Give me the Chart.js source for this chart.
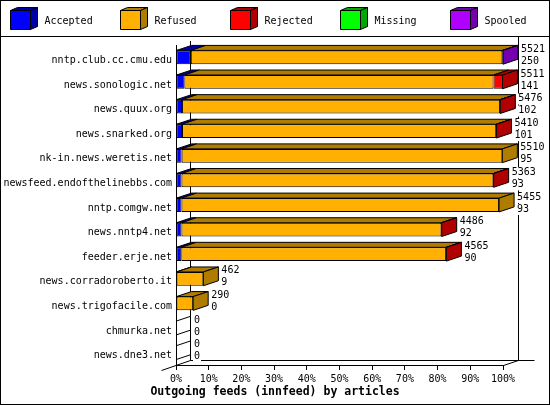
<!DOCTYPE html>
<html>
<head>
<meta charset="utf-8">
<script src="https://cdn.jsdelivr.net/npm/chart.js@4"></script>
<style>
  html, body { margin: 0; padding: 0; background: #fff; }
  canvas { display: block; }
</style>
</head>
<body>
<canvas id="chart" width="550" height="405"></canvas>
<script>
const feeds = [
    'nntp.club.cc.cmu.edu', 'news.sonologic.net', 'news.quux.org', 'news.snarked.org',
    'nk-in.news.weretis.net', 'newsfeed.endofthelinebbs.com', 'nntp.comgw.net',
    'news.nntp4.net', 'feeder.erje.net', 'news.corradoroberto.it', 'news.trigofacile.com',
    'chmurka.net', 'news.dne3.net',
];
const offered  = [5521, 5511, 5476, 5410, 5510, 5363, 5455, 4486, 4565, 462, 290, 0, 0];
const accepted = [250, 141, 102, 101, 95, 93, 93, 92, 90, 9, 0, 0, 0];
const refused  = [5261, 5220, 5370, 5305, 5415, 5266, 5362, 4390, 4471, 453, 290, 0, 0];
const rejected = [0, 150, 4, 4, 0, 4, 0, 4, 4, 0, 0, 0, 0];
const missing  = [0, 0, 0, 0, 0, 0, 0, 0, 0, 0, 0, 0, 0];
const spooled  = [10, 0, 0, 0, 0, 0, 0, 0, 0, 0, 0, 0, 0];
const seriesNames = ['Accepted', 'Refused', 'Rejected', 'Missing', 'Spooled'];
const xTicks = [0, 10, 20, 30, 40, 50, 60, 70, 80, 90, 100];
const chartTitle = 'Outgoing feeds (innfeed) by articles';

const faceColors = ['#0000ff', '#ffb000', '#ff0000', '#00ff00', '#b000ff'];
const darkColors = ['#0000a8', '#b07c00', '#b00000', '#00a800', '#7400b0'];
const MONO = '"DejaVu Sans Mono", "Liberation Mono", monospace';
const DX = 15, DY = 5; // depth of the 3d effect

const maxOffered = Math.max(...offered);
const pct = arr => arr.map(v => v / maxOffered * 100);
const series = [accepted, refused, rejected, missing, spooled];

function line(ctx, x1, y1, x2, y2) {
    ctx.beginPath();
    ctx.moveTo(x1, y1);
    ctx.lineTo(x2, y2);
    ctx.stroke();
}

function poly(ctx, pts, fill) {
    ctx.beginPath();
    ctx.moveTo(pts[0][0], pts[0][1]);
    for (let k = 1; k < pts.length; k++) ctx.lineTo(pts[k][0], pts[k][1]);
    ctx.closePath();
    ctx.fillStyle = fill;
    ctx.fill();
    ctx.stroke();
}

const depthPlugin = {
    id: 'depth',
    beforeDraw(chart) {
        const ctx = chart.ctx;
        ctx.save();
        ctx.fillStyle = '#fff';
        ctx.fillRect(0, 0, chart.width, chart.height);
        ctx.restore();
    },
    beforeDatasetsDraw(chart) {
        const ctx = chart.ctx, a = chart.chartArea;
        const L = Math.round(a.left) - 0.5, R = Math.round(a.right) + 0.5;
        const B = Math.round(a.bottom) + 0.5;
        ctx.save();
        ctx.strokeStyle = '#000';
        ctx.lineWidth = 1;
        // back wall
        line(ctx, L + DX, a.top - 4, L + DX, B - DY);
        line(ctx, R + DX, 36, R + DX, B - DY);
        line(ctx, L + DX, B - DY, R + DX + 16, B - DY);
        // floor edges
        line(ctx, L - 14, B + 5, L + DX, B - DY);
        line(ctx, R, B, R + DX, B - DY);
        ctx.restore();
    },
    afterDatasetsDraw(chart) {
        const ctx = chart.ctx, a = chart.chartArea;
        ctx.save();
        ctx.strokeStyle = '#000';
        ctx.lineWidth = 1;
        let rowY = [], rowH = [], rowEnd = [];
        feeds.forEach((f, i) => {
            let last = -1, end = a.left;
            series.forEach((s, d) => {
                const el = chart.getDatasetMeta(d).data[i];
                const p = el.getProps(['x', 'y', 'base', 'height'], true);
                rowY[i] = p.y; rowH[i] = p.height;
                if (s[i] > 0) {
                    const top = p.y - p.height / 2;
                    poly(ctx, [[p.base, top], [p.x, top], [p.x + DX, top - DY], [p.base + DX, top - DY]], darkColors[d]);
                    last = d;
                    end = p.x;
                }
            });
            const top = rowY[i] - rowH[i] / 2, bot = rowY[i] + rowH[i] / 2;
            if (last >= 0) {
                poly(ctx, [[end, top], [end + DX, top - DY], [end + DX, bot - DY], [end, bot]], darkColors[last]);
            } else {
                line(ctx, a.left, top, a.left + DX, top - DY);
                line(ctx, a.left, bot, a.left + DX, bot - DY);
            }
            rowEnd[i] = end;
        });
        // value labels: offered over accepted
        ctx.font = '10px ' + MONO;
        ctx.textBaseline = 'middle';
        ctx.textAlign = 'left';
        feeds.forEach((f, i) => {
            const x = rowEnd[i] + DX + 3;
            [[String(offered[i]), rowY[i] - 8], [String(accepted[i]), rowY[i] + 4]].forEach(([t, y]) => {
                const w = ctx.measureText(t).width;
                ctx.fillStyle = '#fff';
                ctx.fillRect(x - 1, y - 5, w + 2, 11);
                ctx.fillStyle = '#000';
                ctx.fillText(t, x, y);
            });
        });
        ctx.restore();
    },
    afterDraw(chart) {
        const ctx = chart.ctx;
        ctx.save();
        ctx.strokeStyle = '#000';
        ctx.lineWidth = 1;
        ctx.strokeRect(0.5, 0.5, chart.width - 1, chart.height - 1);
        line(ctx, 0, 36.5, chart.width, 36.5);
        // legend cubes
        ctx.font = '10px ' + MONO;
        ctx.textBaseline = 'middle';
        ctx.textAlign = 'left';
        seriesNames.forEach((name, d) => {
            const x0 = 10.5 + d * 110, y0 = 10.5;
            poly(ctx, [[x0, y0], [x0 + 20, y0], [x0 + 27, y0 - 3], [x0 + 7, y0 - 3]], darkColors[d]);
            poly(ctx, [[x0 + 20, y0], [x0 + 27, y0 - 3], [x0 + 27, y0 + 16], [x0 + 20, y0 + 19]], darkColors[d]);
            poly(ctx, [[x0, y0], [x0 + 20, y0], [x0 + 20, y0 + 19], [x0, y0 + 19]], faceColors[d]);
            ctx.fillStyle = '#000';
            ctx.fillText(name, x0 + 34, 21);
        });
        // title under the x axis, centred on the picture
        ctx.font = 'bold 11.5px ' + MONO;
        ctx.textAlign = 'center';
        ctx.fillText(chartTitle, chart.width / 2, 392);
        ctx.restore();
    },
};

new Chart(document.getElementById('chart').getContext('2d'), {
    type: 'bar',
    data: {
        labels: feeds,
        datasets: series.map((s, d) => ({
            label: seriesNames[d],
            data: pct(s),
            backgroundColor: faceColors[d],
            borderColor: '#000',
            borderWidth: 1,
            borderSkipped: false,
            barPercentage: 0.56,
            categoryPercentage: 1,
        })),
    },
    options: {
        indexAxis: 'y',
        responsive: false,
        animation: false,
        devicePixelRatio: 1,
        layout: { padding: { top: 45, right: 47, left: 0, bottom: 0 } },
        scales: {
            x: {
                stacked: true,
                min: 0,
                max: 100,
                afterBuildTicks: s => { s.ticks = xTicks.map(v => ({ value: v })); },
                afterFit: s => { s.height = 40; },
                ticks: {
                    color: '#000',
                    font: { family: MONO, size: 10 },
                    padding: 3,
                    maxRotation: 0,
                    autoSkip: false,
                    callback: v => v + '%',
                },
                grid: { drawOnChartArea: false, drawTicks: true, tickLength: 5, color: '#000' },
                border: { display: true, color: '#000' },
            },
            y: {
                stacked: true,
                afterFit: s => { s.width = 176; },
                ticks: {
                    color: '#000',
                    font: { family: MONO, size: 10 },
                    padding: 4,
                    labelOffset: 3,
                    autoSkip: false,
                },
                grid: { display: false, drawTicks: false },
                border: { display: true, color: '#000' },
            },
        },
        plugins: {
            legend: { display: false },
            tooltip: { enabled: false },
            title: { display: false },
        },
    },
    plugins: [depthPlugin],
});
</script>
</body>
</html>
